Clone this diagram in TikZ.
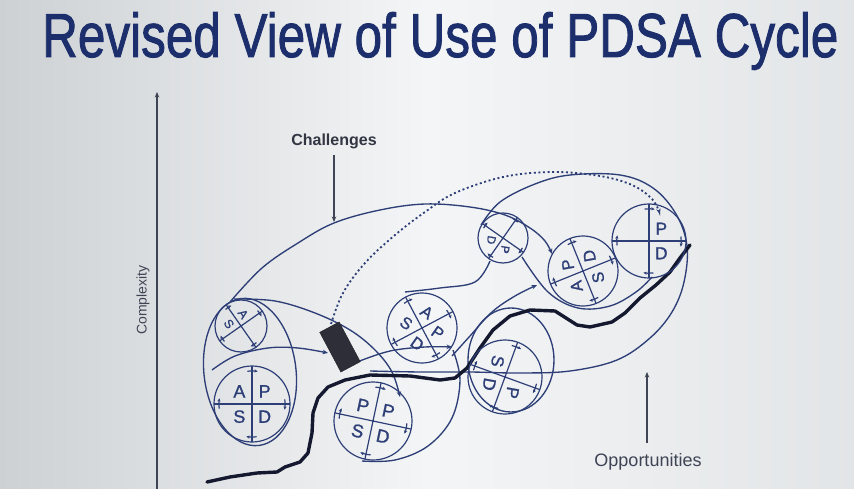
\documentclass[tikz,border=0pt]{standalone}
\usepackage{fontspec}
\usepackage{graphicx}
\setmainfont{Liberation Sans}
\newfontfamily\titlefont[BoldFont={Liberation Sans},BoldFeatures={FakeBold=1.6}]{Liberation Sans}
\newfontfamily\labfont[BoldFont={Liberation Sans},BoldFeatures={FakeBold=1.2}]{Liberation Sans}
\usetikzlibrary{arrows.meta}
\definecolor{ink}{HTML}{2E3F78}
\definecolor{titleblue}{HTML}{1C2F6C}
\definecolor{rivercol}{HTML}{141930}
\definecolor{axisgray}{HTML}{3E4454}
\definecolor{boxfill}{HTML}{2E2E38}
\definecolor{bgL}{HTML}{CDD1D4}
\definecolor{bgM}{HTML}{F4F5F6}
\definecolor{bgR}{HTML}{E2E5E7}
\tikzset{
  x=1pt, y=1pt,
  wl/.style={draw=ink, line width=1.2pt},
  env/.style={draw=ink, line width=1.35pt},
  tip/.style={-{Stealth[length=5.5pt,width=4.5pt]}},
  axisline/.style={draw=axisgray, line width=1.8pt},
  lab/.style={text=ink, inner sep=0pt},
  dotline/.style={draw=ink, line width=1.8pt, dash pattern=on 2pt off 2.6pt},
  pics/pdsa/.style n args={7}{code={
    \pgfmathsetmacro\fs{0.47*#1}
    \draw[wl] (0,0) circle[radius=#1];
    \draw[wl] (#2:#1) -- (#2+180:#1) (#2+90:#1) -- (#2+270:#1);
    \node[lab,rotate=#3,font=\labfont\bfseries\fontsize{\fs}{\fs}\selectfont] at (#2+135:0.47*#1) {#4};
    \node[lab,rotate=#3,font=\labfont\bfseries\fontsize{\fs}{\fs}\selectfont] at (#2+45:0.47*#1) {#5};
    \node[lab,rotate=#3,font=\labfont\bfseries\fontsize{\fs}{\fs}\selectfont] at (#2+225:0.47*#1) {#6};
    \node[lab,rotate=#3,font=\labfont\bfseries\fontsize{\fs}{\fs}\selectfont] at (#2+315:0.47*#1) {#7};
    \foreach \a in {0,90,180,270}{
      \draw[wl,-{Stealth[length=3.5pt,width=3.2pt]}] (#2+\a+8:0.87*#1) arc[start angle=#2+\a+8, end angle=#2+\a-10, radius=0.87*#1];
    }
  }},
}
\begin{document}
\begin{tikzpicture}
% background
\shade[left color=bgL, right color=bgR, middle color=bgM] (0,0) rectangle (854,-489);
\useasboundingbox (0,0) rectangle (854,-489);

% title
\node[anchor=base west, inner sep=0pt, text=titleblue] (title) at (42,-57)
  {\resizebox{796pt}{45pt}{\titlefont\bfseries Revised View of Use of PDSA Cycle}};

% axis and labels
\coordinate (ax0) at (157,-489);
\coordinate (ax1) at (157,-92);
\draw[axisline,tip] (ax0) -- (ax1);
\node[rotate=90, text=axisgray, font=\fontsize{14}{14}\selectfont] (cx) at (143,-300) {Complexity};

\node[text=axisgray!80!black, font=\bfseries\fontsize{16}{16}\selectfont] (ch) at (334,-141) {Challenges};
\coordinate (chs) at (334,-155);
\coordinate (chend) at (334,-222);
\draw[axisline,tip] (chs) -- (chend);

\node[text=axisgray, font=\fontsize{18}{18}\selectfont] (op) at (648,-462) {Opportunities};
\coordinate (opend) at (647,-372);
\coordinate (ops) at (647,-443);
\draw[axisline,tip] (ops) -- (opend);

% envelopes
\draw[env, rotate around={7:(250,-372)}] (250,-372) ellipse[x radius=46, y radius=74];
% challenge arc into C7
\draw[env,tip] plot[smooth, tension=0.6] coordinates {(230,-302) (262,-268) (298,-243) (334,-223) (380,-210) (425,-204) (470,-207) (505,-215) (530,-228) (545,-241) (552,-254)};
% dotted arc
\draw[dotline,tip] plot[smooth, tension=0.6] coordinates {(331,-324) (343,-293) (365,-263) (395,-235) (425,-212) (455,-193) (503,-177) (553,-172) (600,-176) (632,-185) (652,-199) (660,-214)};
% C1 over box to C3
\draw[env,tip] plot[smooth, tension=0.6] coordinates {(234,-299) (275,-301) (315,-313) (350,-330) (375,-350) (392,-372) (400,-397)};
% into box
\draw[env,tip] plot[smooth, tension=0.6] coordinates {(212,-370) (235,-356) (268,-348) (298,-348) (328,-353)};
% out of box
\draw[env,tip] plot[smooth, tension=0.6] coordinates {(357,-362) (390,-351) (425,-347) (452,-347)};
% E3 around C3
\draw[env] plot[smooth, tension=0.6] coordinates {(453,-350) (460,-380) (452,-418) (428,-446) (395,-460) (362,-461)};
% E4 around C5
\draw[env] (511,-360) ellipse[x radius=43, y radius=52];
% arrow up to C7
\draw[env,tip] plot[smooth, tension=0.6] coordinates {(452,-356) (470,-336) (492,-312) (515,-296) (537,-285)};
% big loop
\draw[env] plot[smooth, tension=0.6] coordinates {(405,-292) (440,-288) (475,-282) (490,-261)};
\draw[env] plot[smooth, tension=0.6] coordinates {(481,-225) (500,-202) (535,-184) (570,-175) (620,-175) (653,-188) (676,-214) (687,-246) (684,-282) (672,-312) (650,-338) (617,-360) (570,-371) (520,-373) (470,-372) (420,-372) (370,-371)};
% under C7
\draw[env] plot[smooth, tension=0.6] coordinates {(522,-257) (548,-292) (578,-308) (610,-306) (636,-292) (652,-277)};

% river
\draw[draw=rivercol, line width=3.4pt, line join=round, line cap=round] plot coordinates {(207,-482) (230,-477) (257,-473) (277,-472) (285,-467) (300,-462) (308,-453) (312,-433) (313,-413) (318,-398) (328,-387) (345,-380) (370,-375) (410,-376) (440,-380) (455,-378) (467,-368) (480,-348) (493,-330) (510,-316) (530,-310) (555,-311) (577,-325) (590,-327) (612,-322) (625,-313) (640,-298) (656,-285) (670,-272) (680,-258) (690,-245)};

% box
\node[draw=boxfill!70!black, fill=boxfill, rotate=28, minimum width=22pt, minimum height=45pt, inner sep=0pt] (box) at (340,-347) {};

% PDSA wheels
\pic (c1) at (241,-326) {pdsa={26}{35}{-55}{S}{A}{}{}};
\pic (c2) at (252,-404) {pdsa={38}{0}{0}{A}{P}{S}{D}};
\pic (c3) at (373,-421) {pdsa={39}{-12}{-12}{P}{P}{S}{D}};
\pic (c4) at (422,-328) {pdsa={35}{28}{-35}{S}{A}{D}{P}};
\pic (c5) at (505,-377) {pdsa={37}{160}{-100}{P}{D}{}{S}};
\pic (c6) at (503,-238) {pdsa={25}{145}{-100}{P}{D}{}{}};
\pic (c7) at (583,-271) {pdsa={35}{22}{100}{P}{D}{A}{S}};
\pic (c8) at (649,-241) {pdsa={37}{0}{0}{}{P}{}{D}};
\end{tikzpicture}
\end{document}
